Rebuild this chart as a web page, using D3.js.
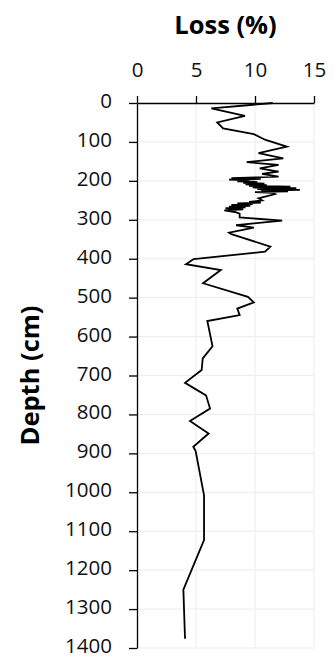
<!DOCTYPE html>
<html><head><meta charset="utf-8">
<script src="https://cdn.jsdelivr.net/npm/d3@7"></script>
<style>body{margin:0;background:#fff}svg{display:block}</style>
</head><body>
<svg id="c" width="334" height="659"></svg>
<script>
const depths = [0,14,33,50,65,80,95,112,129,142,152,159,168,176,182,189,
  193,195,197,199,201,203,205,207,209,211,213,215,217,219,221,223,225,227,229,231,234,245,250,
  254,256,258,260,262,264,266,268,270,273,276,280,284,294,302,314,320,333,337,369,382,401,414,
  429,463,498,512,528,545,560,625,656,686,719,751,785,817,849,883,894,1008,1123,1250,1376];
const losses = [11.5,6.3,9.15,6.8,7.3,9.9,10.9,12.7,10.3,12.4,9.3,12.0,10.4,12.0,10.6,12.0,
  8.0,10.5,7.8,9.5,8.5,10.2,9.0,10.8,9.2,11.0,9.5,13.0,9.8,13.5,10.2,13.8,10.5,12.8,10.0,11.5,11.7,10.3,10.6,
  9.5,10.5,8.5,9.8,8.0,9.6,7.8,9.2,7.5,9.0,7.4,8.3,8.7,8.7,12.3,8.4,9.9,7.8,8.0,11.3,10.85,4.8,4.15,
  7.1,5.6,9.4,9.9,8.5,8.7,5.96,6.4,5.57,5.48,4.07,5.85,6.19,4.49,6.07,4.77,4.97,5.68,5.68,3.93,4.07];
const xTicks = [0,5,10,15];
const yTicks = d3.range(0,1401,100);
const xTitle = "Loss (%)";
const yTitle = "Depth (cm)";

const svg = d3.select("#c");
const L = 137, R = 314, T = 103, B = 648;
const x = d3.scaleLinear().domain([0,15]).range([L,R]);
const y = d3.scaleLinear().domain([0,1400]).range([T,B]);
const font = "'Open Sans', sans-serif";

// grid
svg.append("g").selectAll("line").data(xTicks.slice(1)).join("line")
  .attr("x1",d=>x(d)).attr("x2",d=>x(d)).attr("y1",T).attr("y2",B)
  .attr("stroke","#ececec").attr("stroke-width",1);
svg.append("g").selectAll("line").data(yTicks.slice(1)).join("line")
  .attr("x1",L).attr("x2",R).attr("y1",d=>y(d)).attr("y2",d=>y(d))
  .attr("stroke","#ececec").attr("stroke-width",1);

// axes
const xa = svg.append("g").attr("transform",`translate(0,${T})`)
  .call(d3.axisTop(x).tickValues(xTicks).tickFormat(d3.format("d")).tickSize(7).tickSizeOuter(0).tickPadding(19));
const ya = svg.append("g").attr("transform",`translate(${L},0)`)
  .call(d3.axisLeft(y).tickValues(yTicks).tickFormat(d3.format("d")).tickSize(8).tickSizeOuter(0).tickPadding(17));
[xa,ya].forEach(a=>{
  a.select(".domain").attr("stroke","#000").attr("stroke-width",1.3);
  a.selectAll(".tick line").attr("stroke","#000").attr("stroke-width",1.3);
  a.selectAll("text").attr("font-family",font).attr("font-size",20.5).attr("fill","#111");
});
ya.selectAll("text").attr("dy","0.22em");

// line
const pts = depths.map((d,i)=>[losses[i],d]);
svg.append("path").datum(pts)
  .attr("fill","none").attr("stroke","#000").attr("stroke-width",1.8)
  .attr("stroke-linejoin","miter")
  .attr("d",d3.line().x(d=>x(d[0])).y(d=>y(d[1])));

// titles
svg.append("text").attr("x",(L+R)/2).attr("y",34).attr("text-anchor","middle")
  .attr("font-family",font).attr("font-weight","bold").attr("font-size",25.5).text(xTitle);
svg.append("text").attr("transform",`translate(39,${(T+B)/2}) rotate(-90)`)
  .attr("text-anchor","middle").attr("font-family",font).attr("font-weight","bold")
  .attr("font-size",25.5).text(yTitle);
</script>
</body></html>
